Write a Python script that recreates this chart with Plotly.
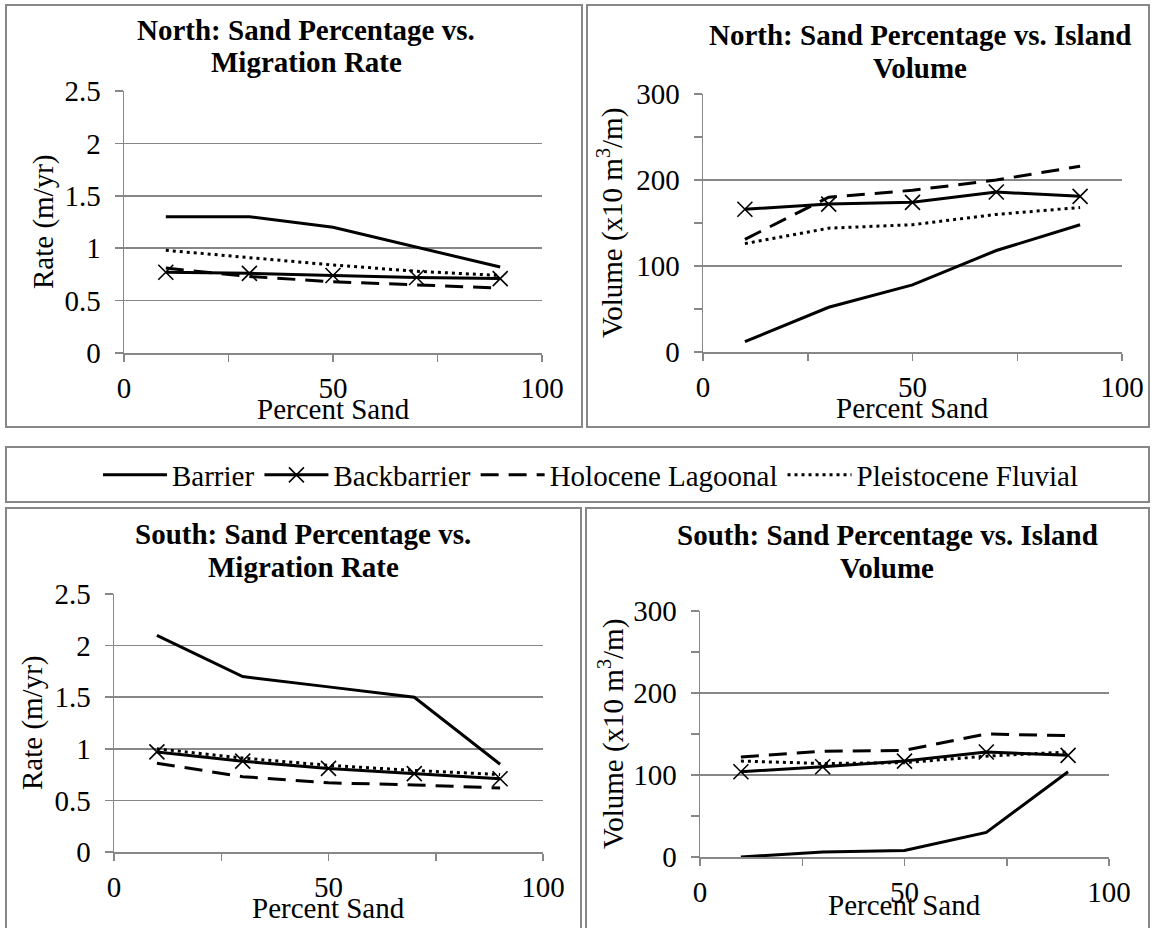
import plotly.graph_objects as go

# ---- data -------------------------------------------------------------
sand_pct = [10, 30, 50, 70, 90]

series_names = ["Barrier", "Backbarrier", "Holocene Lagoonal", "Pleistocene Fluvial"]

north_rate_barrier = [1.30, 1.30, 1.20, 1.01, 0.82]
north_rate_backbarrier = [0.77, 0.76, 0.74, 0.72, 0.71]
north_rate_holocene = [0.81, 0.73, 0.68, 0.65, 0.62]
north_rate_pleistocene = [0.98, 0.91, 0.84, 0.78, 0.74]

north_vol_barrier = [12, 52, 78, 118, 148]
north_vol_backbarrier = [166, 172, 174, 186, 181]
north_vol_holocene = [131, 180, 188, 200, 216]
north_vol_pleistocene = [126, 144, 148, 160, 168]

south_rate_barrier = [2.10, 1.70, 1.60, 1.50, 0.85]
south_rate_backbarrier = [0.97, 0.88, 0.81, 0.76, 0.71]
south_rate_holocene = [0.86, 0.73, 0.67, 0.65, 0.62]
south_rate_pleistocene = [1.00, 0.91, 0.84, 0.79, 0.75]

south_vol_barrier = [0, 6, 8, 30, 104]
south_vol_backbarrier = [104, 110, 117, 128, 124]
south_vol_holocene = [122, 129, 130, 150, 148]
south_vol_pleistocene = [117, 114, 115, 123, 128]

panel_titles = [
    ("North: Sand Percentage vs.", "Migration Rate"),
    ("North: Sand Percentage vs. Island", "Volume"),
    ("South: Sand Percentage vs.", "Migration Rate"),
    ("South: Sand Percentage vs. Island", "Volume"),
]
rate_title = "Rate (m/yr)"
vol_title = "Volume (x10 m<sup>3</sup>/m)"
x_title = "Percent Sand"

# ---- page geometry (pixels) --------------------------------------------
W, H = 1152, 928
FONT = "Liberation Serif, Times New Roman, serif"
GRAY = "#878787"
TXT = 29


def fx(px):
    return px / W


def fy(py):
    return 1 - py / H


panels = [
    dict(values=[north_rate_barrier, north_rate_backbarrier, north_rate_holocene, north_rate_pleistocene],
         xdom=(124, 542), ydom=(91, 353), kind="rate",
         title_x=306, title_y=(30, 62), ytitle_x=43, xtitle_y=409),
    dict(values=[north_vol_barrier, north_vol_backbarrier, north_vol_holocene, north_vol_pleistocene],
         xdom=(703, 1122), ydom=(94, 352), kind="vol",
         title_x=920, title_y=(35, 68), ytitle_x=610, xtitle_y=408),
    dict(values=[south_rate_barrier, south_rate_backbarrier, south_rate_holocene, south_rate_pleistocene],
         xdom=(114, 543), ydom=(594, 852), kind="rate",
         title_x=303, title_y=(534, 567), ytitle_x=32, xtitle_y=908),
    dict(values=[south_vol_barrier, south_vol_backbarrier, south_vol_holocene, south_vol_pleistocene],
         xdom=(700, 1109), ydom=(611, 857), kind="vol",
         title_x=887, title_y=(535, 568), ytitle_x=611, xtitle_y=905),
]

line_styles = [
    dict(dash="solid", width=3),
    dict(dash="solid", width=3),
    dict(dash="18px,10px", width=3),
    dict(dash="3px,4px", width=3),
]

fig = go.Figure()
layout = dict(
    width=W, height=H,
    margin=dict(l=0, r=0, t=0, b=0),
    paper_bgcolor="white", plot_bgcolor="white",
    font=dict(family=FONT, size=TXT, color="black"),
    showlegend=True,
    legend=dict(
        orientation="h", x=0.513, xanchor="center", y=fy(475), yanchor="middle",
        font=dict(family=FONT, size=TXT, color="black"),
        bgcolor="rgba(0,0,0,0)", borderwidth=0, itemwidth=64,
        traceorder="normal",
    ),
)

annotations = []
shapes = []

for i, p in enumerate(panels):
    n = i + 1
    xa = "x" if n == 1 else f"x{n}"
    ya = "y" if n == 1 else f"y{n}"
    for j, (name, vals) in enumerate(zip(series_names, p["values"])):
        st = line_styles[j]
        fig.add_trace(go.Scatter(
            x=sand_pct, y=vals, name=name,
            xaxis=xa, yaxis=ya,
            mode="lines+markers" if j == 1 else "lines",
            line=dict(color="black", width=st["width"], dash=st["dash"]),
            marker=dict(symbol="x-thin", size=15, color="black",
                        line=dict(color="black", width=1.6)),
            legendgroup=name, showlegend=(i == 0),
            hoverinfo="skip",
        ))

    x0, x1 = p["xdom"]
    y0, y1 = p["ydom"]
    xkey = "xaxis" if n == 1 else f"xaxis{n}"
    ykey = "yaxis" if n == 1 else f"yaxis{n}"
    layout[xkey] = dict(
        domain=[fx(x0), fx(x1)], anchor=ya, range=[0, 100],
        tickvals=[0, 50, 100], ticks="outside", ticklen=7, tickwidth=1.5, tickcolor=GRAY,
        minor=dict(tickvals=[25, 75], ticks="outside", ticklen=7, tickwidth=1.5, tickcolor=GRAY),
        showgrid=False, zeroline=False, showline=True, linecolor=GRAY, linewidth=1.5,
        tickfont=dict(family=FONT, size=TXT, color="black"), automargin=False, fixedrange=True,
        ticklabelstandoff=2,
    )
    if p["kind"] == "rate":
        yextra = dict(range=[0, 2.5], dtick=0.5, tick0=0)
        ytxt = rate_title
    else:
        yextra = dict(range=[0, 300], dtick=100, tick0=0,
                      minor=dict(dtick=50, ticks="outside", ticklen=8, tickwidth=1.5,
                                 tickcolor=GRAY, showgrid=False))
        ytxt = vol_title
    layout[ykey] = dict(
        domain=[fy(y1), fy(y0)], anchor=xa,
        ticks="outside", ticklen=8, tickwidth=1.5, tickcolor=GRAY,
        showgrid=True, gridcolor=GRAY, gridwidth=1.5,
        zeroline=False, showline=True, linecolor=GRAY, linewidth=1.5,
        tickfont=dict(family=FONT, size=TXT, color="black"), automargin=False, fixedrange=True,
        ticklabelstandoff=8,
        **yextra,
    )

    # chart title, two lines
    for line_txt, ty in zip(panel_titles[i], p["title_y"]):
        annotations.append(dict(
            text=f"<b>{line_txt}</b>", xref="paper", yref="paper",
            x=fx(p["title_x"]), y=fy(ty), xanchor="center", yanchor="middle",
            showarrow=False, font=dict(family=FONT, size=TXT, color="black"),
        ))
    # y axis title
    annotations.append(dict(
        text=ytxt, xref="paper", yref="paper",
        x=fx(p["ytitle_x"]), y=fy((y0 + y1) / 2), xanchor="center", yanchor="middle",
        textangle=-90, showarrow=False, font=dict(family=FONT, size=TXT, color="black"),
    ))
    # x axis title
    annotations.append(dict(
        text=x_title, xref="paper", yref="paper",
        x=fx((x0 + x1) / 2), y=fy(p["xtitle_y"]), xanchor="center", yanchor="middle",
        showarrow=False, font=dict(family=FONT, size=TXT, color="black"),
    ))

# chart-area frames and the legend frame
frames = [
    (6, 5, 582, 427),
    (587, 5, 1149, 427),
    (6, 447, 1149, 502),
    (6, 508, 581, 940),
    (586, 508, 1149, 940),
]
for (a, b, c, d) in frames:
    shapes.append(dict(type="rect", xref="paper", yref="paper",
                       x0=fx(a), x1=fx(c), y0=fy(d), y1=fy(b),
                       line=dict(color=GRAY, width=2), fillcolor="rgba(0,0,0,0)", layer="below"))

layout["annotations"] = annotations
layout["shapes"] = shapes
fig.update_layout(**layout)

fig.write_html("out.html", config={"displayModeBar": False, "staticPlot": True})
